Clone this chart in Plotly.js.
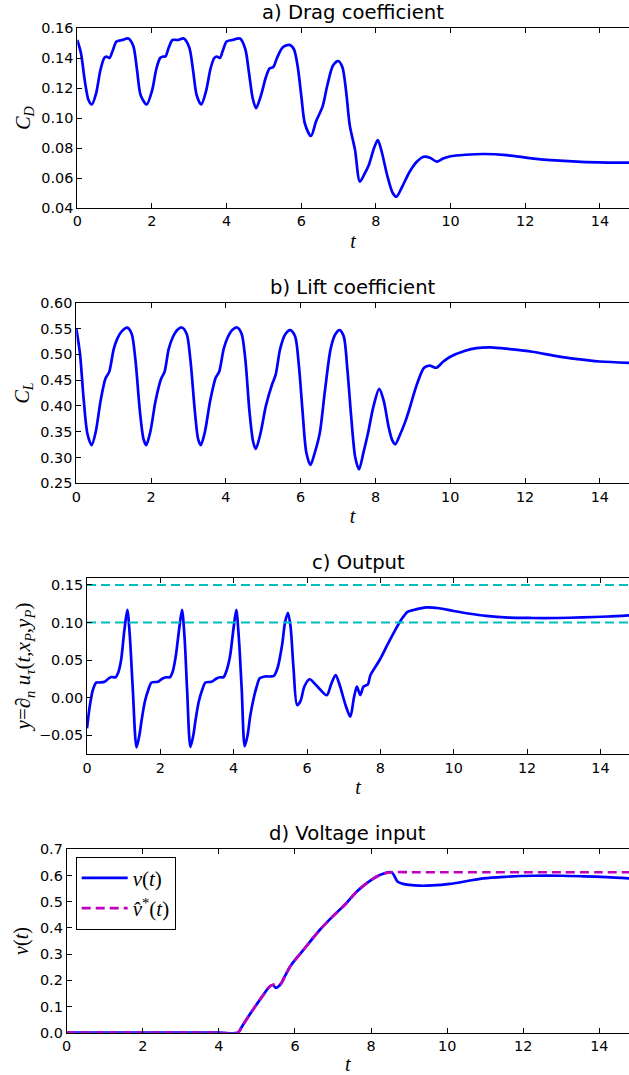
<!DOCTYPE html>
<html><head><meta charset="utf-8">
<script src="https://cdn.plot.ly/plotly-3.0.1.min.js"></script>
<style>html,body{margin:0;padding:0;background:#fff;overflow:hidden}</style>
</head><body><div id="chart" style="width:629px;height:1075px"></div>
<script>
// ---- data ----
const tDrag = [0,0.1,0.2,0.3,0.39,0.5,0.62,0.72,0.78,0.86,0.95,1.05,1.2,1.37,1.5,1.6,1.7,1.86,2.0,2.12,2.22,2.3,2.36,2.45,2.55,2.7,2.85,3.0,3.1,3.2,3.32,3.45,3.57,3.67,3.74,3.82,3.9,4.0,4.15,4.36,4.5,4.6,4.7,4.79,4.92,5.05,5.15,5.25,5.35,5.5,5.68,5.8,5.9,6.0,6.1,6.26,6.4,6.57,6.7,6.85,6.99,7.1,7.2,7.3,7.44,7.57,7.7,7.81,7.95,8.05,8.15,8.3,8.45,8.55,8.7,8.9,9.1,9.28,9.45,9.63,9.8,10.0,10.4,10.9,11.5,12.17,12.8,13.5,14.2,14.8];
const cDrag = [0.152,0.143,0.125,0.112,0.109,0.116,0.132,0.140,0.141,0.140,0.145,0.151,0.152,0.153,0.148,0.132,0.115,0.109,0.118,0.133,0.140,0.141,0.141,0.147,0.152,0.152,0.153,0.147,0.132,0.115,0.109,0.118,0.133,0.140,0.141,0.140,0.145,0.151,0.152,0.153,0.146,0.130,0.113,0.1065,0.115,0.127,0.133,0.134,0.140,0.147,0.1487,0.146,0.135,0.115,0.096,0.088,0.098,0.1076,0.122,0.135,0.138,0.134,0.118,0.095,0.0787,0.0576,0.063,0.0687,0.080,0.0853,0.078,0.062,0.050,0.0475,0.054,0.064,0.071,0.0742,0.0735,0.0709,0.073,0.0745,0.0755,0.076,0.0752,0.0731,0.0717,0.0707,0.0703,0.0702];

const tLift = [0,0.1,0.2,0.3,0.41,0.52,0.65,0.78,0.88,1.0,1.1,1.22,1.36,1.48,1.58,1.7,1.8,1.87,1.98,2.12,2.27,2.36,2.47,2.58,2.7,2.82,2.95,3.05,3.17,3.26,3.33,3.44,3.58,3.73,3.82,3.94,4.05,4.17,4.3,4.42,4.52,4.63,4.73,4.8,4.92,5.07,5.23,5.33,5.45,5.58,5.72,5.85,5.95,6.05,6.15,6.26,6.38,6.51,6.65,6.8,6.92,7.04,7.15,7.25,7.35,7.46,7.56,7.68,7.8,7.95,8.1,8.22,8.35,8.45,8.53,8.65,8.8,8.9,9.1,9.3,9.45,9.63,9.8,10.0,10.4,10.7,11.08,11.6,12.19,12.8,13.35,14.0,14.8];
const cLift = [0.550,0.50,0.41,0.345,0.324,0.35,0.41,0.453,0.466,0.51,0.531,0.545,0.5516,0.54,0.49,0.39,0.335,0.324,0.35,0.41,0.453,0.466,0.51,0.533,0.547,0.552,0.54,0.49,0.39,0.335,0.324,0.35,0.41,0.455,0.466,0.51,0.533,0.547,0.552,0.54,0.49,0.39,0.33,0.3165,0.345,0.40,0.4405,0.46,0.51,0.538,0.547,0.535,0.48,0.39,0.31,0.2855,0.31,0.347,0.43,0.51,0.538,0.547,0.535,0.47,0.38,0.30,0.277,0.31,0.347,0.40,0.433,0.41,0.36,0.333,0.3256,0.343,0.37,0.392,0.44,0.474,0.478,0.474,0.485,0.4953,0.507,0.512,0.5135,0.510,0.505,0.497,0.491,0.486,0.4835];

const tOut = [0,0.08,0.16,0.25,0.35,0.48,0.58,0.66,0.78,0.85,0.93,1.02,1.10,1.17,1.25,1.35,1.43,1.49,1.58,1.67,1.76,1.94,2.05,2.16,2.26,2.34,2.42,2.51,2.59,2.66,2.73,2.82,2.9,2.96,3.05,3.14,3.23,3.4,3.52,3.62,3.72,3.8,3.9,3.99,4.07,4.14,4.22,4.30,4.38,4.45,4.55,4.63,4.71,4.85,5.0,5.1,5.2,5.32,5.4,5.48,5.55,5.63,5.73,5.82,5.93,6.07,6.2,6.35,6.54,6.66,6.78,6.9,7.05,7.18,7.28,7.36,7.45,7.54,7.66,7.73,7.98,8.2,8.43,8.6,8.75,8.93,9.25,9.6,9.97,10.4,10.88,11.5,12.15,12.8,13.5,14.2,14.8];
const yOut = [-0.041,-0.010,0.010,0.0197,0.020,0.021,0.025,0.0273,0.027,0.033,0.050,0.090,0.1167,0.080,0.010,-0.0664,-0.050,-0.030,-0.005,0.010,0.020,0.021,0.025,0.027,0.027,0.035,0.055,0.090,0.1167,0.080,0.010,-0.066,-0.050,-0.030,-0.005,0.010,0.020,0.021,0.025,0.027,0.027,0.035,0.055,0.090,0.1167,0.080,0.010,-0.065,-0.050,-0.025,0.000,0.015,0.0256,0.028,0.028,0.029,0.040,0.070,0.100,0.113,0.095,0.040,-0.010,-0.005,0.015,0.0243,0.019,0.011,0.003,0.018,0.030,0.015,-0.010,-0.0256,0.000,0.0144,0.0033,0.0144,0.0176,0.030,0.050,0.071,0.0922,0.106,0.1144,0.117,0.1202,0.119,0.1157,0.112,0.1087,0.1065,0.106,0.106,0.1067,0.108,0.1096];
const outBounds = [0.10, 0.15];

const tVolt = [0,1,2,3,4,4.5,4.6,4.75,4.89,5.1,5.33,5.42,5.5,5.58,5.64,5.75,5.9,6.2,6.65,7.0,7.35,7.6,7.88,8.23,8.54,8.7,8.84,9.0,9.28,9.6,10.07,10.5,10.95,11.5,12.26,13.0,13.57,14.2,14.8];
const vVolt = [0,0,0,0,0,0,0.022,0.056,0.0866,0.13,0.1756,0.182,0.171,0.178,0.189,0.22,0.258,0.312,0.392,0.445,0.494,0.535,0.570,0.602,0.6125,0.576,0.568,0.564,0.561,0.562,0.568,0.578,0.589,0.595,0.599,0.599,0.597,0.594,0.589];
const tVhat = [0,1,2,3,4,4.5,4.6,4.75,4.89,5.1,5.33,5.42,5.55,5.64,5.75,5.9,6.2,6.65,7.0,7.35,7.6,7.88,8.23,8.54,9,10,11,12,13,14,14.8];
const vHat  = [0,0,0,0,0,0,0.022,0.056,0.0866,0.13,0.1756,0.183,0.183,0.189,0.22,0.258,0.312,0.392,0.445,0.494,0.535,0.570,0.602,0.6125,0.6125,0.6125,0.6125,0.6125,0.6125,0.6125,0.6125];

const xTicks = [0,2,4,6,8,10,12,14];
const panelTitles = ['a) Drag coefficient','b) Lift coefficient','c) Output','d) Voltage input'];

// ---- styling ----
const W = 629, H = 1075;
const tickFont = {family:'DejaVu Sans', size:14.4, color:'#000'};
const mathFont = {family:'Liberation Serif', size:20, color:'#000'};
const blue = '#0000ff', cyan = '#00bfbf', magenta = '#bf00bf';
const xRange = [0, 14.78];

function xa(left, anchor){
  return {domain:[left/W, 1], anchor:anchor, range:xRange, showgrid:false, zeroline:false,
    showline:true, linecolor:'#000', linewidth:1, mirror:'ticks', ticks:'inside', ticklen:5,
    tickcolor:'#000', tickvals:xTicks, ticktext:xTicks.map(String), tickfont:tickFont,
    title:{text:'<i>t</i>', font:mathFont, standoff:5}};
}
function ya(top, bottom, anchor, range, dtick, fmt, title, standoff, tfont){
  return {domain:[1-bottom/H, 1-top/H], anchor:anchor, range:range, showgrid:false, zeroline:false,
    showline:true, linecolor:'#000', linewidth:1, ticks:'inside', ticklen:5, tickcolor:'#000',
    tick0:0, dtick:dtick, tickformat:fmt, tickfont:tickFont,
    title:{text:title, font:tfont || mathFont, standoff:standoff}};
}

const line = {color:blue, width:2.7, shape:'spline', smoothing:0.8};
const traces = [
  {x:tDrag, y:cDrag, xaxis:'x', yaxis:'y', mode:'lines', line:line, showlegend:false},
  {x:tLift, y:cLift, xaxis:'x2', yaxis:'y2', mode:'lines', line:line, showlegend:false},
  {x:tOut, y:yOut, xaxis:'x3', yaxis:'y3', mode:'lines', line:line, showlegend:false},
];
outBounds.forEach(b => traces.push({x:[tOut[0], tOut[tOut.length-1]], y:[b,b], xaxis:'x3', yaxis:'y3',
  mode:'lines', line:{color:cyan, width:2.2, dash:'9px,5px'}, showlegend:false}));
traces.push({x:tVolt, y:vVolt, xaxis:'x4', yaxis:'y4', mode:'lines', line:line, name:'<i>v</i>(<i>t</i>)'});
traces.push({x:tVhat, y:vHat, xaxis:'x4', yaxis:'y4', mode:'lines',
  line:{color:magenta, width:2.7, dash:'9px,5px', shape:'spline', smoothing:0.8}, name:'<i>v̂</i><sup>*</sup>(<i>t</i>)'});

const tops = [28, 302.7, 577.7, 849.3];
const bottoms = [208, 483.3, 754.3, 1032.7];
const lefts = [77.3, 76.3, 87, 66.7];

const layout = {
  width:W, height:H, margin:{l:0,r:0,t:0,b:0}, paper_bgcolor:'#fff', plot_bgcolor:'#fff',
  font:{family:'DejaVu Sans', color:'#000'},
  xaxis: xa(lefts[0],'y'), xaxis2: xa(lefts[1],'y2'), xaxis3: xa(lefts[2],'y3'), xaxis4: xa(lefts[3],'y4'),
  yaxis: ya(tops[0], bottoms[0], 'x', [0.04,0.16], 0.02, '.2f', '<i>C</i><sub><i>D</i></sub>', 5),
  yaxis2: ya(tops[1], bottoms[1], 'x2', [0.25,0.60], 0.05, '.2f', '<i>C</i><sub><i>L</i></sub>', 5),
  yaxis3: ya(tops[2], bottoms[2], 'x3', [-0.0757,0.1597], 0.05, '.2f',
     '<i>y</i>=∂<sub><i>n</i></sub> <i>u</i><sub><i>τ</i></sub>(<i>t</i>,<i>x</i><sub><i>P</i></sub>,<i>y</i><sub><i>P</i></sub>)', 2,
     {family:'Liberation Serif', size:21, color:'#000'}),
  yaxis4: ya(tops[3], bottoms[3], 'x4', [0,0.7], 0.1, '.1f', '<i>v</i>(<i>t</i>)', 5),
  showlegend:true,
  legend:{x:75.7/W, y:1-856.7/H, xanchor:'left', yanchor:'top', bgcolor:'#fff', bordercolor:'#000',
    borderwidth:1, itemwidth:46, tracegroupgap:0, entrywidth:68, entrywidthmode:'pixels',
    font:{family:'Liberation Serif', size:21, color:'#000'}},
  annotations: panelTitles.map((txt,i) => ({text:txt, xref:'paper', yref:'paper',
    x:(lefts[i]+W)/2/W, y:1-(tops[i]-2)/H, xanchor:'center', yanchor:'bottom', showarrow:false,
    font:{family:'DejaVu Sans', size:19.6, color:'#000'}}))
};
Plotly.newPlot('chart', traces, layout, {staticPlot:true, displayModeBar:false});
</script></body></html>
